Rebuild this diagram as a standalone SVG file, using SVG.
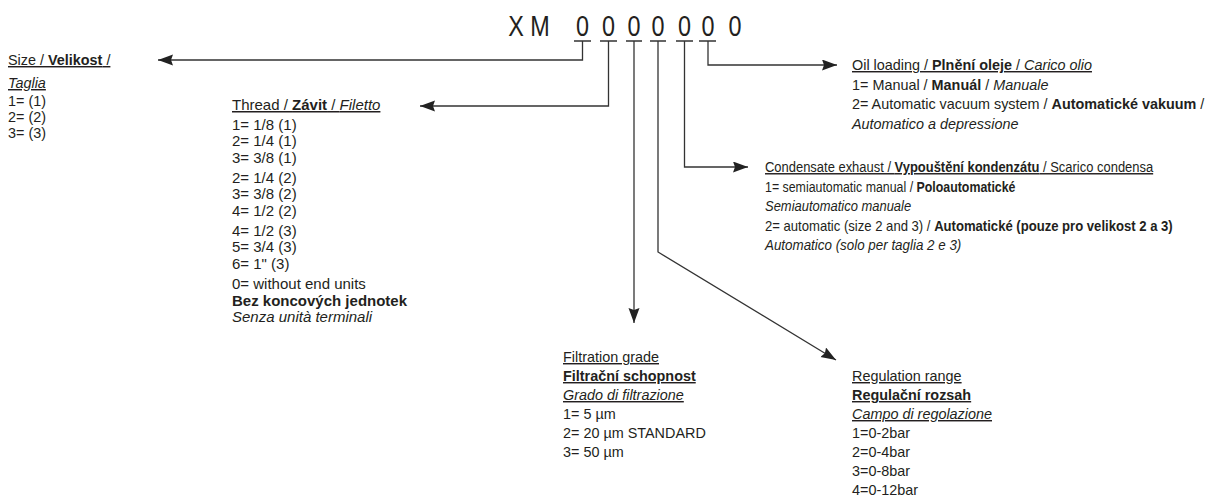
<svg xmlns="http://www.w3.org/2000/svg" width="1225" height="503" viewBox="0 0 1225 503">
<style>
text{font-family:"Liberation Sans",Arial,sans-serif;font-size:14.4px;fill:#231f20}
.t{font-size:30px;text-anchor:middle}
.u{text-decoration:underline}
.b{font-weight:bold}
.i{font-style:italic}
.ln{fill:none;stroke:#333;stroke-width:1.3}
#thread text{font-size:15px}
</style>
<defs>
<marker id="ah" markerUnits="userSpaceOnUse" markerWidth="16" markerHeight="12" refX="15" refY="5.5" orient="auto">
<path d="M0,0 L15,5.5 L0,11 L2,5.5 z" fill="#222"/>
</marker>
</defs>
<rect width="1225" height="503" fill="#fff"/>
<g id="code">
<text class="t" transform="translate(516,36) scale(0.78,1)">X</text>
<text class="t" transform="translate(540,36) scale(0.78,1)">M</text>
<text class="t" transform="translate(582.5,36) scale(0.78,1)">0</text>
<text class="t" transform="translate(608.5,36) scale(0.78,1)">0</text>
<text class="t" transform="translate(634,36) scale(0.78,1)">0</text>
<text class="t" transform="translate(658,36) scale(0.78,1)">0</text>
<text class="t" transform="translate(684.5,36) scale(0.78,1)">0</text>
<text class="t" transform="translate(708,36) scale(0.78,1)">0</text>
<text class="t" transform="translate(735,36) scale(0.78,1)">0</text>
<path class="ln" d="M574,41H591M600,41H617M626,41H642M650,41H666M676,41H693M699,41H716"/>
</g>
<g id="connectors">
<path class="ln" d="M582.5,41V60H158" marker-end="url(#ah)"/>
<path class="ln" d="M608.5,41V106H420" marker-end="url(#ah)"/>
<path class="ln" d="M634,41V323" marker-end="url(#ah)"/>
<path class="ln" d="M658,41V252L836,360" marker-end="url(#ah)"/>
<path class="ln" d="M684.5,41V167H748" marker-end="url(#ah)"/>
<path class="ln" d="M708,41V65H837" marker-end="url(#ah)"/>
</g>
<g id="size">
<text class="u" x="8" y="65">Size / <tspan class="b">Velikost</tspan> /</text>
<text class="u i" x="8" y="88">Taglia</text>
<text x="8" y="106">1= (1)</text>
<text x="8" y="122">2= (2)</text>
<text x="8" y="138">3= (3)</text>
</g>
<g id="thread">
<text class="u" x="232" y="110">Thread / <tspan class="b">Závit</tspan> / <tspan class="i">Filetto</tspan></text>
<text x="232" y="130">1= 1/8 (1)</text>
<text x="232" y="146">2= 1/4 (1)</text>
<text x="232" y="163">3= 3/8 (1)</text>
<text x="232" y="183">2= 1/4 (2)</text>
<text x="232" y="199">3= 3/8 (2)</text>
<text x="232" y="216">4= 1/2 (2)</text>
<text x="232" y="236">4= 1/2 (3)</text>
<text x="232" y="252">5= 3/4 (3)</text>
<text x="232" y="269">6= 1" (3)</text>
<text x="232" y="289">0= without end units</text>
<text class="b" x="232" y="306">Bez koncových jednotek</text>
<text class="i" x="232" y="322">Senza unità terminali</text>
</g>
<g id="oil">
<text class="u" x="852" y="70">Oil loading / <tspan class="b">Plnění oleje</tspan> / <tspan class="i">Carico olio</tspan></text>
<text x="852" y="90">1= Manual / <tspan class="b">Manuál</tspan> / <tspan class="i">Manuale</tspan></text>
<text x="852" y="109">2= Automatic vacuum system / <tspan class="b">Automatické vakuum</tspan> /</text>
<text class="i" x="852" y="129">Automatico a depressione</text>
</g>
<g id="condensate">
<text class="u" transform="translate(765,172) scale(0.9,1)">Condensate exhaust / <tspan class="b">Vypouštění kondenzátu</tspan> / Scarico condensa</text>
<text transform="translate(765,192) scale(0.86,1)">1= semiautomatic manual / <tspan class="b">Poloautomatické</tspan></text>
<text class="i" transform="translate(765,211) scale(0.9,1)">Semiautomatico manuale</text>
<text transform="translate(765,231) scale(0.91,1)">2= automatic (size 2 and 3) / <tspan class="b">Automatické (pouze pro velikost 2 a 3)</tspan></text>
<text class="i" transform="translate(765,250) scale(0.93,1)">Automatico (solo per taglia 2 e 3)</text>
</g>
<g id="filtration">
<text class="u" x="563" y="362">Filtration grade</text>
<text class="u b" x="563" y="381">Filtrační schopnost</text>
<text class="u i" x="563" y="400">Grado di filtrazione</text>
<text x="563" y="419">1= 5 µm</text>
<text x="563" y="438">2= 20 µm STANDARD</text>
<text x="563" y="457">3= 50 µm</text>
</g>
<g id="regulation">
<text class="u" x="852" y="381">Regulation range</text>
<text class="u b" x="852" y="400">Regulační rozsah</text>
<text class="u i" x="852" y="419">Campo di regolazione</text>
<text x="852" y="438">1=0-2bar</text>
<text x="852" y="457">2=0-4bar</text>
<text x="852" y="476">3=0-8bar</text>
<text x="852" y="495">4=0-12bar</text>
</g>
</svg>
